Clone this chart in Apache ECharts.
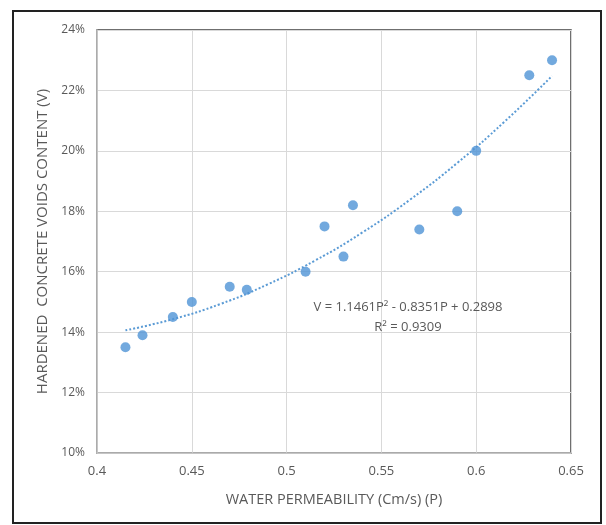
<!DOCTYPE html>
<html>
<head>
<meta charset="utf-8">
<script src="https://cdn.jsdelivr.net/npm/echarts@6/dist/echarts.min.js"></script>
<style>
html,body{margin:0;padding:0;background:#fff;}
#c{width:606px;height:525px;}
</style>
</head>
<body>
<div id="c"></div>
<script>
// Measured data
var permeability = [0.415, 0.424, 0.44, 0.45, 0.47, 0.479, 0.51, 0.52, 0.53, 0.535, 0.57, 0.59, 0.60, 0.628, 0.64];
var voids = [13.5, 13.9, 14.5, 15.0, 15.5, 15.4, 16.0, 17.5, 16.5, 18.2, 17.4, 18.0, 20.0, 22.5, 23.0];
// Trendline points
var trendX = [0.415, 0.44, 0.465, 0.49, 0.515, 0.54, 0.565, 0.59, 0.615, 0.64];
var trendY = [14.06, 14.43, 14.93, 15.58, 16.37, 17.30, 18.38, 19.60, 20.97, 22.48];
var equationText = 'V = 1.1461P\u00B2 - 0.8351P + 0.2898';
var r2Text = 'R\u00B2 = 0.9309';

var pts = permeability.map(function (x, i) { return [x, voids[i]]; });
var trend = trendX.map(function (x, i) { return [x, trendY[i]]; });

var font = '"Open Sans", "DejaVu Sans Condensed", sans-serif';
var chart = echarts.init(document.getElementById('c'), null, {renderer: 'canvas'});
chart.setOption({
  animation: false,
  backgroundColor: '#fff',
  grid: {left: 97, right: 35, top: 30, bottom: 72, show: true, borderColor: '#404040', borderWidth: 1.5, backgroundColor: 'transparent'},
  xAxis: {
    type: 'value', min: 0.4, max: 0.65, interval: 0.05,
    name: 'WATER PERMEABILITY (Cm/s) (P)', nameLocation: 'middle', nameGap: 39,
    nameTextStyle: {color: '#595959', fontSize: 14.5, fontFamily: font},
    axisLine: {show: true, lineStyle: {color: '#bfbfbf', width: 1.5}},
    axisTick: {show: false},
    axisLabel: {color: '#595959', fontSize: 13, fontFamily: font, margin: 12},
    splitLine: {show: true, lineStyle: {color: '#d9d9d9', width: 1}}
  },
  yAxis: {
    type: 'value', min: 10, max: 24, interval: 2,
    name: 'HARDENED  CONCRETE VOIDS CONTENT (V)', nameLocation: 'middle', nameGap: 45,
    nameTextStyle: {color: '#595959', fontSize: 15, fontFamily: font},
    axisLine: {show: true, lineStyle: {color: '#bfbfbf', width: 1.5}},
    axisTick: {show: false},
    axisLabel: {color: '#595959', fontSize: 12, fontFamily: font, margin: 12, formatter: '{value}%'},
    splitLine: {show: true, lineStyle: {color: '#d9d9d9', width: 1}}
  },
  series: [
    {
      type: 'line', data: trend, smooth: true, symbol: 'none', silent: true,
      lineStyle: {color: '#5b9bd5', width: 2, type: [2, 2]}, z: 2
    },
    {
      type: 'scatter', data: pts, symbol: 'circle', symbolSize: 10,
      itemStyle: {color: '#4f93d6'}, z: 3
    }
  ],
  graphic: [
    {type: 'rect', shape: {x: 13, y: 11, width: 588, height: 512}, style: {fill: 'none', stroke: '#222', lineWidth: 2}, silent: true},
    {type: 'text', x: 408, y: 307, style: {text: equationText, fill: '#595959', font: '13px ' + font, textAlign: 'center', textVerticalAlign: 'middle'}, z: 10},
    {type: 'text', x: 408, y: 327, style: {text: r2Text, fill: '#595959', font: '13px ' + font, textAlign: 'center', textVerticalAlign: 'middle'}, z: 10}
  ]
});
</script>
</body>
</html>
